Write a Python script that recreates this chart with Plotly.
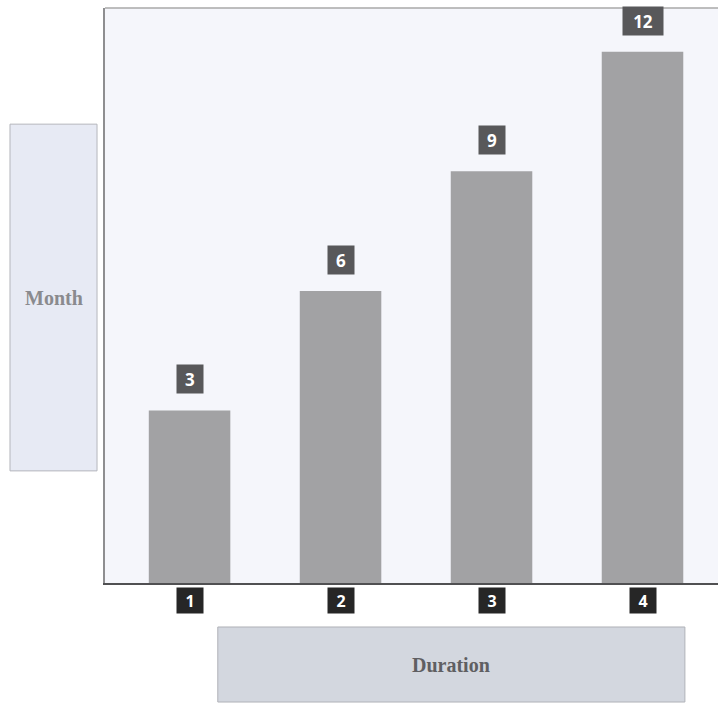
import plotly.graph_objects as go

categories = [1, 2, 3, 4]
tick_labels = ["1", "2", "3", "4"]
months = [3, 6, 9, 12]
x_title = "Duration"
y_title = "Month"

y_floor = -1.33
y_top = 13.1

fig = go.Figure()
fig.add_trace(go.Bar(
    x=categories, y=[v - y_floor for v in months], base=y_floor, width=0.54,
    marker=dict(color="#a2a2a4", line=dict(width=0)),
    hoverinfo="skip", showlegend=False,
))

annotations = []
for c, v in zip(categories, months):
    lab = str(v)
    annotations.append(dict(
        x=c, y=v, xref="x", yref="y", text="<b>%s</b>" % lab, showarrow=False,
        xanchor="center", yanchor="middle",
        yshift=31, bgcolor="#58585a", width=24 + 14 * (len(lab) - 1), height=26,
        font=dict(family="Open Sans, Liberation Sans, sans-serif", size=17, color="white"),
    ))
for c, t in zip(categories, tick_labels):
    annotations.append(dict(
        x=c, y=-0.0296, xref="x", yref="paper", text="<b>%s</b>" % t, showarrow=False,
        xanchor="center", yanchor="middle",
        bgcolor="#262626", width=24, height=23,
        font=dict(family="Open Sans, Liberation Sans, sans-serif", size=16, color="white"),
    ))
annotations.append(dict(
    x=(-0.155 - 0.013) / 2, y=(0.798 + 0.195) / 2, xref="paper", yref="paper",
    xanchor="center", yanchor="middle",
    text="<b>%s</b>" % y_title, showarrow=False,
    font=dict(family="Liberation Serif, DejaVu Serif, serif", size=20, color="#8a8a8e"),
))
annotations.append(dict(
    x=(0.184 + 0.946) / 2, y=(-0.0765 - 0.207) / 2, xref="paper", yref="paper",
    xanchor="center", yanchor="middle",
    text="<b>%s</b>" % x_title, showarrow=False,
    font=dict(family="Liberation Serif, DejaVu Serif, serif", size=20, color="#5f5f62"),
))

shapes = [
    dict(type="rect", xref="paper", yref="paper", x0=-0.155, x1=-0.013, y0=0.195, y1=0.798,
         fillcolor="#e7eaf4", line=dict(color="#b4b6bc", width=1), layer="below"),
    dict(type="rect", xref="paper", yref="paper", x0=0.184, x1=0.946, y0=-0.207, y1=-0.0765,
         fillcolor="#d3d7df", line=dict(color="#b0b2b8", width=1), layer="below"),
    dict(type="line", xref="paper", yref="paper", x0=0, x1=1, y0=1, y1=1,
         line=dict(color="#a8a8a8", width=1.5)),
]

fig.update_layout(
    width=718, height=703,
    margin=dict(l=105, r=0, t=8, b=120),
    paper_bgcolor="white", plot_bgcolor="#f5f6fb",
    xaxis=dict(range=[0.44, 4.5], showticklabels=False, showgrid=False, zeroline=False,
               showline=True, linecolor="#505052", linewidth=2, ticks=""),
    yaxis=dict(range=[y_floor, y_top], showticklabels=False, showgrid=False, zeroline=False,
               showline=True, linecolor="#8e8e90", linewidth=1.5, ticks=""),
    annotations=annotations, shapes=shapes,
)

fig.write_html("out.html", config={"displayModeBar": False},
               post_script="document.body.style.margin='0';")
